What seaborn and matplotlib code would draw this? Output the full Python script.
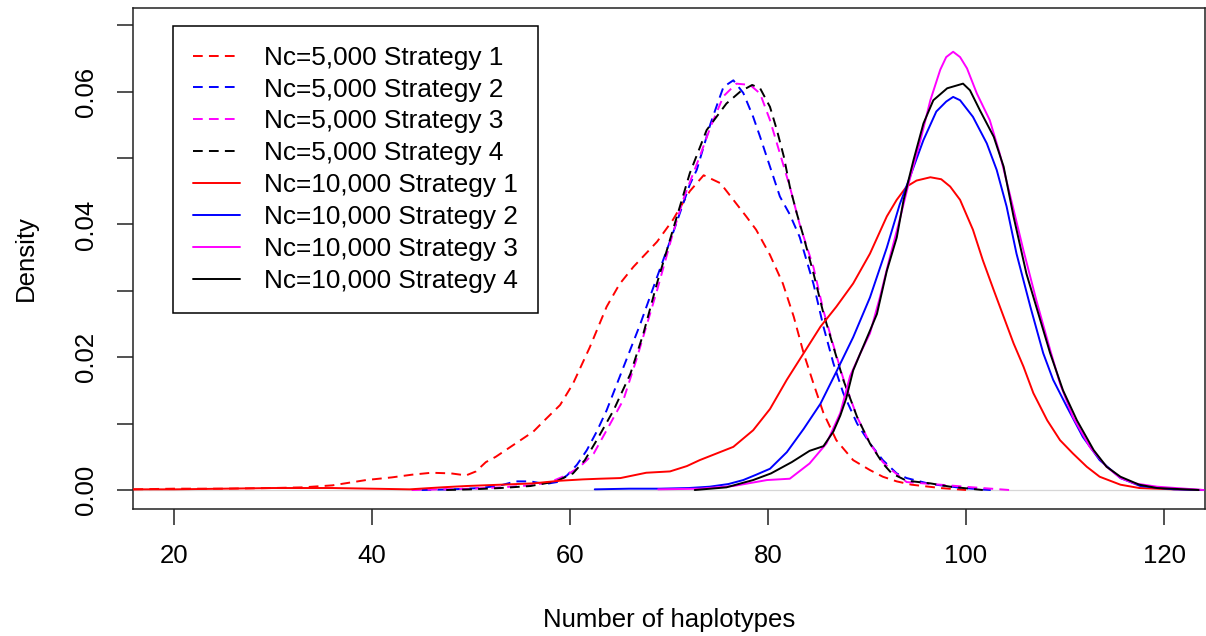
import matplotlib
matplotlib.use("Agg")
import matplotlib.pyplot as plt
import seaborn as sns

# ---------------- data ----------------
labels = ["Nc=5,000 Strategy 1", "Nc=5,000 Strategy 2", "Nc=5,000 Strategy 3", "Nc=5,000 Strategy 4",
          "Nc=10,000 Strategy 1", "Nc=10,000 Strategy 2", "Nc=10,000 Strategy 3", "Nc=10,000 Strategy 4"]

n5_s1_x = [15.9, 20, 25, 30, 33, 36, 39.4, 42, 44, 46, 48, 49.5, 50.5, 51.5, 52.5, 54.5, 56.3, 57.5, 59, 60.3,
           62, 63.7, 65, 66.4, 67.6, 68.8, 70.4, 72.1, 73.5, 75.2, 76.5, 77.8, 78.8, 80.2, 81.5, 82.6, 83.6,
           84.6, 85.6, 86.9, 88.6, 90.3, 91.6, 93, 94.5, 97.4, 100]
n5_s1_y = [0.0001, 0.0002, 0.0002, 0.0003, 0.0004, 0.0007, 0.0015, 0.0019, 0.0023, 0.0026, 0.0025, 0.0022,
           0.0028, 0.0042, 0.0050, 0.0070, 0.0088, 0.0106, 0.0128, 0.0160, 0.0215, 0.0276, 0.0310, 0.0336,
           0.0355, 0.0374, 0.0407, 0.0450, 0.0474, 0.0462, 0.0437, 0.0412, 0.0392, 0.0354, 0.0311, 0.0261,
           0.0206, 0.0160, 0.0116, 0.0075, 0.0045, 0.0030, 0.0020, 0.0013, 0.0008, 0.0003, 0.0]

n5_s2_x = [45, 48, 51, 53, 54.5, 56, 57.5, 58.7, 59.7, 60.7, 61.7, 62.7, 63.7, 65.4, 67.1, 68.8, 70.4, 72.1,
           72.8, 73.5, 74.2, 74.9, 75.5, 76.5, 77.5, 78.5, 79.2, 80.2, 81.2, 82.2, 83.2, 84.6, 85.6, 86.6,
           87.6, 89.0, 90.3, 91.6, 93, 94.0, 96.4, 99.1, 101.4, 102.5]
n5_s2_y = [0.0, 0.0001, 0.0003, 0.0007, 0.0013, 0.0013, 0.0009, 0.0012, 0.0022, 0.0038, 0.0060, 0.0088,
           0.0120, 0.0185, 0.0250, 0.0321, 0.0387, 0.0460, 0.0482, 0.0517, 0.0552, 0.0582, 0.0607, 0.0617,
           0.0598, 0.0562, 0.0532, 0.0487, 0.0442, 0.0415, 0.0381, 0.0310, 0.0246, 0.0191, 0.0146, 0.0100,
           0.0070, 0.0045, 0.0025, 0.0018, 0.0009, 0.0004, 0.0001, 0.0]

n5_s3_x = [44, 47, 50, 53, 56, 58, 59.6, 61, 62.4, 63.7, 65.4, 66.7, 67.7, 68.8, 70.4, 71.5, 72.4, 73.1, 74.2,
           75.5, 76.8, 78.2, 79.2, 80.2, 81.2, 82.2, 83.2, 84.6, 85.6, 86.6, 87.6, 89.0, 90.3, 91.6, 92.5,
           94.0, 97.4, 100.7, 104.4]
n5_s3_y = [0.0, 0.0001, 0.0002, 0.0004, 0.0007, 0.0012, 0.0022, 0.0035, 0.0055, 0.0090, 0.0136, 0.0196,
           0.0246, 0.0301, 0.0387, 0.0440, 0.0475, 0.0502, 0.0547, 0.0593, 0.0612, 0.0610, 0.0597, 0.0557,
           0.0507, 0.0457, 0.0400, 0.0335, 0.0270, 0.0218, 0.0168, 0.0110, 0.0070, 0.0042, 0.0030, 0.0012,
           0.0008, 0.0004, 0.0]

n5_s4_x = [47.5, 50, 53, 56, 58.6, 60.3, 61.5, 62.7, 64.4, 66.1, 67.4, 68.8, 70.4, 72.1, 73.8, 75.8, 77.2,
           78.4, 79.2, 80.2, 80.9, 81.6, 82.2, 82.9, 83.6, 84.6, 85.6, 86.6, 87.6, 89.0, 90.3, 91.6, 92.5,
           94.0, 96.4, 98.4, 101.7]
n5_s4_y = [0.0, 0.0001, 0.0003, 0.0006, 0.0013, 0.0025, 0.0045, 0.0075, 0.0120, 0.0175, 0.0235, 0.0312,
           0.0392, 0.0477, 0.0542, 0.0582, 0.0600, 0.0610, 0.0605, 0.0577, 0.0542, 0.0502, 0.0457, 0.0417,
           0.0381, 0.0326, 0.0266, 0.0216, 0.0166, 0.0110, 0.0070, 0.0040, 0.0025, 0.0014, 0.0010, 0.0005, 0.0]

n10_s1_x = [15.9, 20, 25, 30, 36, 40, 43.8, 47, 49.5, 53, 56.3, 59, 61.3, 63, 65.1, 66.4, 67.7, 70.1, 71.8,
            73.1, 74.8, 76.5, 78.5, 80.2, 81.9, 83.6, 85.3, 86.9, 88.6, 90.3, 92.0, 93, 94.0, 95, 96.4, 97.5,
            98.4, 99.4, 100.7, 101.7, 102.8, 103.8, 104.8, 105.8, 106.8, 108.2, 109.5, 110.8, 112.2, 113.5,
            115.6, 117.5, 121, 124]
n10_s1_y = [0.0001, 0.0001, 0.0002, 0.0003, 0.0003, 0.0002, 0.0001, 0.0004, 0.0006, 0.0008, 0.0010, 0.0014,
            0.0016, 0.0017, 0.0018, 0.0022, 0.0026, 0.0028, 0.0036, 0.0045, 0.0055, 0.0065, 0.0090, 0.0122,
            0.0166, 0.0206, 0.0246, 0.0276, 0.0311, 0.0356, 0.0412, 0.0437, 0.0457, 0.0466, 0.0471, 0.0468,
            0.0457, 0.0437, 0.0392, 0.0346, 0.0301, 0.0261, 0.0221, 0.0186, 0.0146, 0.0105, 0.0075, 0.0055,
            0.0035, 0.0020, 0.0008, 0.0003, 0.0001, 0.0]

n10_s2_x = [62.5, 66, 69.1, 72, 74.1, 76, 77.5, 78.8, 80.2, 81.9, 83.6, 85.3, 86.9, 88.6, 90.3, 92.0, 93.3,
            94.5, 95.7, 97.0, 98.0, 98.7, 99.4, 100.7, 102.1, 103.1, 104.1, 105.1, 106.5, 107.8, 108.8, 110.2,
            111.8, 113.5, 115.6, 117.6, 121, 124]
n10_s2_y = [0.0001, 0.0002, 0.0002, 0.0003, 0.0005, 0.0009, 0.0015, 0.0023, 0.0032, 0.0057, 0.0092, 0.0130,
            0.0178, 0.0230, 0.0290, 0.0365, 0.0430, 0.0478, 0.0527, 0.0570, 0.0585, 0.0592, 0.0587, 0.0562,
            0.0522, 0.0482, 0.0427, 0.0356, 0.0276, 0.0206, 0.0166, 0.0125, 0.0080, 0.0045, 0.0018, 0.0006,
            0.0001, 0.0]

n10_s3_x = [68.9, 73.1, 76.5, 79.9, 82.2, 84.2, 85.9, 87.3, 88.3, 89.3, 90.3, 91.3, 92.3, 93.3, 94.3, 95.4,
            96.4, 97.4, 98.0, 98.7, 99.4, 100.1, 101.1, 102.4, 103.4, 104.4, 105.8, 107.1, 108.5, 109.5,
            110.8, 112.5, 114.2, 115.6, 117, 119.3, 124]
n10_s3_y = [0.0001, 0.0002, 0.0006, 0.0015, 0.0017, 0.0040, 0.0070, 0.0116, 0.0172, 0.0205, 0.0236, 0.0290,
            0.0350, 0.0407, 0.0467, 0.0527, 0.0587, 0.0633, 0.0652, 0.0660, 0.0652, 0.0635, 0.0597, 0.0557,
            0.0507, 0.0447, 0.0361, 0.0286, 0.0211, 0.0160, 0.0110, 0.0065, 0.0035, 0.0018, 0.0010, 0.0005,
            0.0]

n10_s4_x = [72.6, 75.8, 78.5, 80.3, 82.4, 84.2, 85.6, 86.6, 87.3, 87.9, 88.6, 89.3, 90.3, 91.0, 92.0, 93.0,
            93.7, 94.7, 95.7, 96.7, 98.1, 99.7, 100.4, 101.4, 102.8, 103.8, 104.8, 106.1, 107.5, 108.5, 109.8,
            111.2, 112.9, 114.2, 115.6, 117.5, 119.3, 123.5]
n10_s4_y = [0.0, 0.0004, 0.0015, 0.0025, 0.0042, 0.0059, 0.0066, 0.0088, 0.0112, 0.0138, 0.0180, 0.0205,
            0.0240, 0.0265, 0.0330, 0.0380, 0.0437, 0.0497, 0.0552, 0.0587, 0.0605, 0.0612, 0.0602, 0.0572,
            0.0532, 0.0487, 0.0412, 0.0326, 0.0256, 0.0206, 0.0150, 0.0105, 0.0060, 0.0035, 0.0020, 0.0008,
            0.0003, 0.0]

colors = ["#FF0000", "#0000FF", "#FF00FF", "#000000"]
x_ticks = [20, 40, 60, 80, 100, 120]
y_ticks = [0.00, 0.01, 0.02, 0.03, 0.04, 0.05, 0.06, 0.07]
y_tick_labels = ["0.00", "", "0.02", "", "0.04", "", "0.06", ""]

# ---------------- figure ----------------
sns.set_theme(style="white")
plt.rcParams['font.family'] = ['Liberation Sans', 'DejaVu Sans']

W, H = 1206, 636
fig = plt.figure(figsize=(W / 100, H / 100), dpi=100)
ax = fig.add_axes([133 / W, 1 - 509 / H, (1205 - 133) / W, (509 - 8) / H])

ax.axhline(0, color="#d6d6d6", lw=0.9, zorder=1)

xs = [n5_s1_x, n5_s2_x, n5_s3_x, n5_s4_x, n10_s1_x, n10_s2_x, n10_s3_x, n10_s4_x]
ys = [n5_s1_y, n5_s2_y, n5_s3_y, n5_s4_y, n10_s1_y, n10_s2_y, n10_s3_y, n10_s4_y]
dash = (0, (5.0, 3.2))
for i in range(8):
    ls = dash if i < 4 else "-"
    sns.lineplot(x=xs[i], y=ys[i], ax=ax, color=colors[i % 4], linewidth=1.4,
                 linestyle=ls, label=labels[i], estimator=None, sort=False, zorder=3)

ax.set_xlim(15.86, 124.14)
ax.set_ylim(-0.00286, 0.07259)
ax.set_xticks(x_ticks)
ax.set_xticklabels([str(v) for v in x_ticks])
ax.set_yticks(y_ticks)
ax.set_yticklabels(y_tick_labels)

for s in ax.spines.values():
    s.set_visible(True)
    s.set_color("#222222")
    s.set_linewidth(1.1)

ax.tick_params(axis="both", direction="out", length=11.5, width=1.1, color="#222222",
               labelsize=18.5, labelcolor="black", pad=14, bottom=True, left=True)
for t in ax.get_yticklabels():
    t.set_rotation(90)
    t.set_va("center")

ax.set_xlabel("Number of haplotypes", fontsize=18.5, color="black", va="center")
ax.xaxis.set_label_coords(0.5, (H - 620 - (H - 509)) / (509 - 8))
ax.set_ylabel("Density", fontsize=18.5, color="black", va="center")
ax.yaxis.set_label_coords((26 - 133) / (1205 - 133), 0.5)

handles, labs = ax.get_legend_handles_labels()
leg = ax.legend(handles, labs, loc="upper left", bbox_to_anchor=(173 / W, 1 - 26 / H),
                bbox_transform=fig.transFigure, frameon=True, fancybox=False, framealpha=1,
                edgecolor="black", fontsize=18.9, handlelength=1.8, handletextpad=0.92,
                labelspacing=0.30, borderpad=0.75, borderaxespad=0)
leg.get_frame().set_linewidth(1.1)
for t in leg.get_texts():
    t.set_color("black")

fig.savefig("out.png", dpi=100)
